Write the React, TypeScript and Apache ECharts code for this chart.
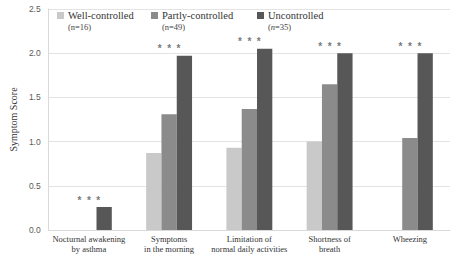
import React, { useEffect, useRef } from "react";
import * as echarts from "echarts";

const categories = [
  "Nocturnal awakening\nby asthma",
  "Symptoms\nin the morning",
  "Limitation of\nnormal daily activities",
  "Shortness of\nbreath",
  "Wheezing",
];
const wellControlled = [0, 0.87, 0.93, 1.0, 0];
const partlyControlled = [0, 1.31, 1.37, 1.65, 1.04];
const uncontrolled = [0.26, 1.97, 2.05, 2.0, 2.0];
const significance = ["*  *  *", "*  *  *", "*  *  *", "*  *  *", "*  *  *"];
const seriesNames = ["Well-controlled", "Partly-controlled", "Uncontrolled"];
const sampleSizes = ["16", "49", "35"];
const yTicks = [0, 0.5, 1.0, 1.5, 2.0, 2.5];

const SERIF = "Liberation Serif";
const SANS = "Liberation Sans";

export default function App() {
  const ref = useRef<HTMLDivElement>(null);
  useEffect(() => {
    if (!ref.current) return;
    const chart = echarts.init(ref.current, undefined, { renderer: "svg" });
    const colors = ["#c9c9c9", "#8b8b8b", "#575757"];
    const legendLeft = [57, 151, 257];
    const dataSets = [wellControlled, partlyControlled, uncontrolled];
    const legendGraphics: any[] = [];
    seriesNames.forEach((n, i) => {
      const x0 = legendLeft[i];
      legendGraphics.push({
        type: "rect",
        shape: { x: x0, y: 12, width: 7, height: 7 },
        style: { fill: colors[i] },
      });
      legendGraphics.push({
        type: "text",
        x: x0 + 11,
        y: 15.5,
        style: {
          text: n,
          fontFamily: SERIF,
          fontSize: 10.5,
          fill: "#333",
          verticalAlign: "middle",
        },
      });
      legendGraphics.push({
        type: "text",
        x: x0 + 11,
        y: 26.5,
        style: {
          text: i === 2 ? "({i|n}=" + sampleSizes[i] + ")" : "(n=" + sampleSizes[i] + ")",
          rich: { i: { fontStyle: "italic", fontFamily: SERIF, fontSize: 8.5, fill: "#444" } },
          fontFamily: SERIF,
          fontSize: 8.5,
          fill: "#444",
          verticalAlign: "middle",
        },
      });
    });
    chart.setOption({
      animation: false,
      textStyle: { fontFamily: SERIF },
      grid: { left: 43, right: 6, top: 9, bottom: 28 },
      graphic: legendGraphics,
      xAxis: {
        type: "category",
        data: categories,
        axisLine: { lineStyle: { color: "#d9d9d9" } },
        axisTick: { show: false },
        axisLabel: {
          interval: 0,
          fontFamily: SERIF,
          fontSize: 8.5,
          lineHeight: 10,
          color: "#333",
          margin: 4,
        },
      },
      yAxis: {
        type: "value",
        min: 0,
        max: 2.5,
        interval: 0.5,
        name: "Symptom Score",
        nameLocation: "middle",
        nameGap: 28,
        nameTextStyle: { fontFamily: SERIF, fontSize: 10, color: "#333" },
        axisLine: { show: true, lineStyle: { color: "#d9d9d9" } },
        axisTick: { show: false },
        splitLine: { lineStyle: { color: "#e3e3e3" } },
        axisLabel: {
          fontFamily: SANS,
          fontSize: 8.5,
          color: "#595959",
          margin: 8,
          formatter: (v: number) => (yTicks.includes(v) ? v.toFixed(1) : ""),
        },
      },
      series: dataSets.map((d, i) => ({
        name: seriesNames[i],
        type: "bar",
        data: d,
        barWidth: 15.3,
        barGap: "0%",
        itemStyle: { color: colors[i] },
        label:
          i === 2
            ? {
                show: true,
                position: "top",
                distance: 2,
                offset: [-15.3, 0],
                formatter: (p: any) => significance[p.dataIndex],
                fontFamily: SANS,
                fontSize: 10,
                fontWeight: "bold",
                color: "#7a7a7a",
              }
            : { show: false },
      })),
    });
    return () => chart.dispose();
  }, []);
  return (
    <div
      ref={ref}
      style={{ position: "absolute", left: 0, top: 0, width: 456, height: 258 }}
    />
  );
}
